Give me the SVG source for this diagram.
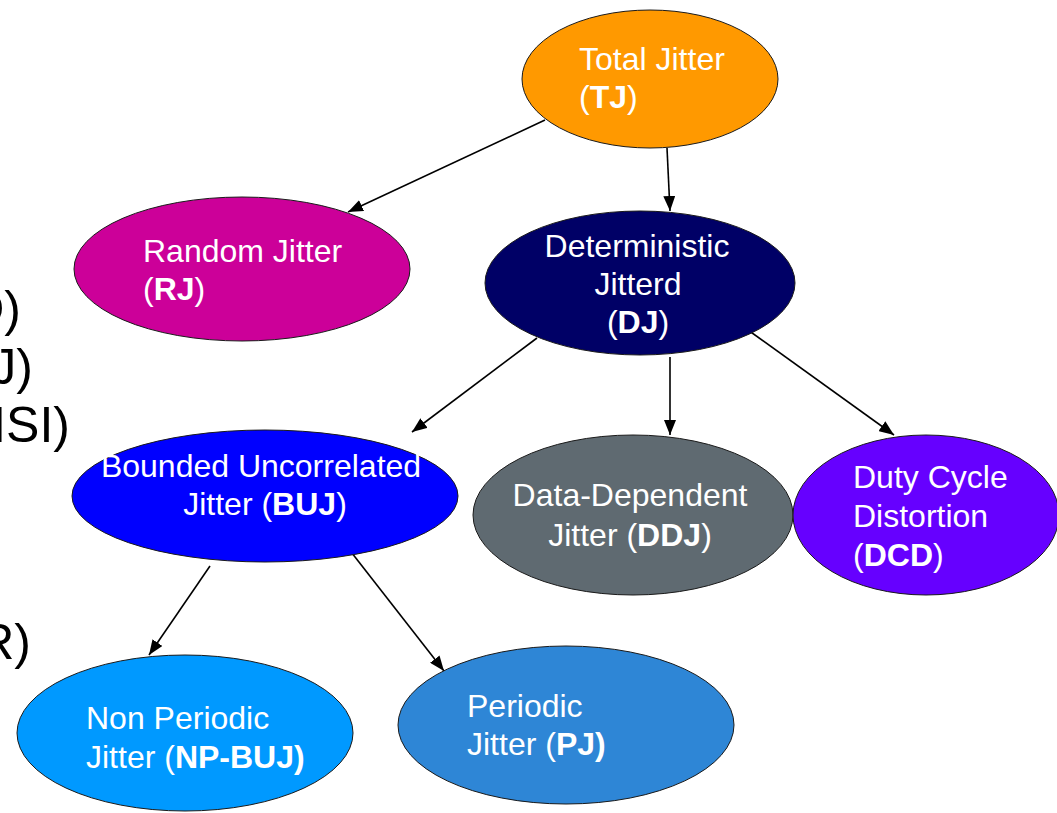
<svg xmlns="http://www.w3.org/2000/svg" width="1057" height="813" viewBox="0 0 1057 813">
  <defs>
    <marker id="arrow" markerUnits="userSpaceOnUse" markerWidth="16" markerHeight="12" refX="15" refY="6" orient="auto">
      <path d="M0,0 L15,6 L0,12 z" fill="#000"/>
    </marker>
    <style>
      .node { stroke: #1a1a1a; stroke-width: 1; }
      .lbl { font-family: "Liberation Sans", Arial, sans-serif; font-size: 32px; fill: #fff; }
      .lbl .b { font-weight: bold; }
      .mid { text-anchor: middle; }
      .edge { stroke: #000; stroke-width: 1.6; fill: none; marker-end: url(#arrow); }
      .side { font-family: "Liberation Sans", Arial, sans-serif; font-size: 50px; fill: #000; text-anchor: end; }
    </style>
  </defs>

  <rect width="1057" height="813" fill="#fff"/>

  <!-- text lines running off the left edge -->
  <g id="side-text">
    <text class="side" x="21" y="326">D)</text>
    <text class="side" x="33" y="384">J)</text>
    <text class="side" x="70" y="442">ISI)</text>
    <text class="side" x="31" y="659">R)</text>
  </g>

  <g id="connectors">
    <line class="edge" x1="545" y1="120" x2="348" y2="212"/>
    <line class="edge" x1="667" y1="148" x2="670" y2="211"/>
    <line class="edge" x1="537" y1="338" x2="412" y2="432"/>
    <line class="edge" x1="670" y1="357" x2="670" y2="435"/>
    <line class="edge" x1="748" y1="330" x2="894" y2="435"/>
    <line class="edge" x1="210" y1="566" x2="149" y2="655"/>
    <line class="edge" x1="348" y1="548" x2="444" y2="671"/>
  </g>

  <g id="tj">
    <ellipse class="node" cx="650" cy="79" rx="128" ry="69" fill="#ff9900"/>
    <text class="lbl" x="579" y="70">Total Jitter</text>
    <text class="lbl" x="579" y="108">(<tspan class="b">TJ</tspan>)</text>
  </g>

  <g id="rj">
    <ellipse class="node" cx="242" cy="269" rx="168" ry="72" fill="#cc0099"/>
    <text class="lbl" x="143" y="262">Random Jitter</text>
    <text class="lbl" x="143" y="300">(<tspan class="b">RJ</tspan>)</text>
  </g>

  <g id="dj">
    <ellipse class="node" cx="640" cy="283" rx="155" ry="72" fill="#000066"/>
    <text class="lbl mid" x="637" y="257">Deterministic</text>
    <text class="lbl mid" x="638" y="295">Jitterd</text>
    <text class="lbl mid" x="638" y="333">(<tspan class="b">DJ</tspan>)</text>
  </g>

  <g id="buj">
    <ellipse class="node" cx="265" cy="496" rx="193" ry="66" fill="#0000ff"/>
    <text class="lbl mid" x="261" y="477">Bounded Uncorrelated</text>
    <text class="lbl mid" x="265" y="515">Jitter (<tspan class="b">BUJ</tspan>)</text>
  </g>

  <g id="ddj">
    <ellipse class="node" cx="633" cy="515" rx="160" ry="80" fill="#5f6a71"/>
    <text class="lbl mid" x="630" y="506">Data-Dependent</text>
    <text class="lbl mid" x="630" y="546">Jitter (<tspan class="b">DDJ</tspan>)</text>
  </g>

  <g id="dcd">
    <ellipse class="node" cx="926" cy="515" rx="133" ry="80" fill="#6600ff"/>
    <text class="lbl" x="853" y="488">Duty Cycle</text>
    <text class="lbl" x="853" y="527">Distortion</text>
    <text class="lbl" x="853" y="566">(<tspan class="b">DCD</tspan>)</text>
  </g>

  <g id="np-buj">
    <ellipse class="node" cx="185" cy="733" rx="168" ry="78" fill="#0099ff"/>
    <text class="lbl" x="86" y="729">Non Periodic</text>
    <text class="lbl" x="86" y="768">Jitter (<tspan class="b">NP-BUJ)</tspan></text>
  </g>

  <g id="pj">
    <ellipse class="node" cx="566" cy="725" rx="168" ry="79" fill="#2e86d6"/>
    <text class="lbl" x="467" y="717">Periodic</text>
    <text class="lbl" x="467" y="755">Jitter (<tspan class="b">PJ)</tspan></text>
  </g>
</svg>
